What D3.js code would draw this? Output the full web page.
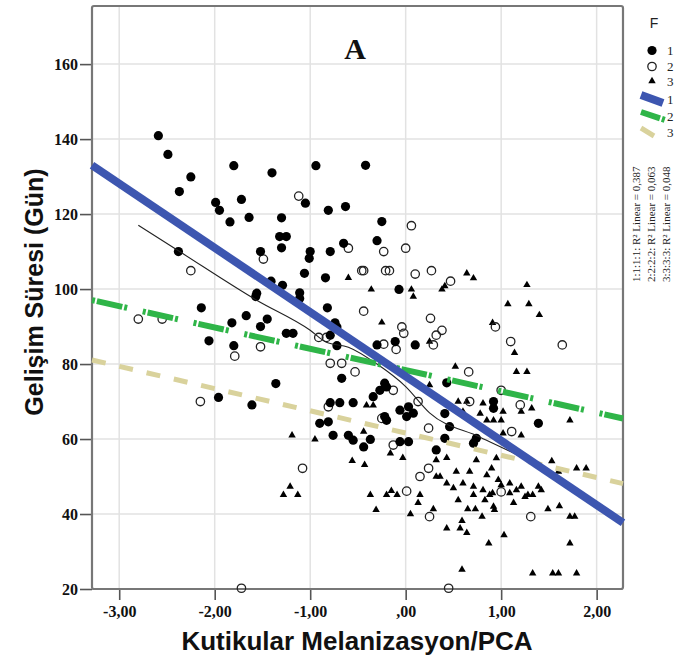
<!DOCTYPE html>
<html>
<head>
<meta charset="utf-8">
<script src="https://cdn.jsdelivr.net/npm/d3@7"></script>
<style>
body { margin: 0; background: #fff; }
</style>
</head>
<body>
<svg id="chart" width="679" height="668"></svg>
<script>
// axis ticks
const xTicks = [-3, -2, -1, 0, 1, 2];
const yTicks = [20, 40, 60, 80, 100, 120, 140, 160];

// F = 1 (filled circles)
const group1 = [
  [-2.59,140.9],[-2.49,135.9],[-2.25,129.9],[-2.37,126],[-1.80,132.9],[-1.40,131],[-0.94,132.9],[-0.42,133],
  [-1.05,122.9],[-1.99,123.1],[-1.95,121],[-1.72,123.9],[-1.84,117.9],[-1.64,119.1],[-1.30,119],[-0.81,121],[-0.63,122],
  [-1.32,114],[-1.25,114],[-1.30,111],[-1.52,110],[-1.00,110],[-1.01,108.2],[-0.79,110],[-0.65,112.2],[-2.38,110],
  [-1.06,104.2],[-0.84,103],[-1.41,102.1],[-1.29,101],[-1.11,99],[-1.11,97.5],[-1.56,98.9],[-1.57,98],
  [-0.82,95],[-0.74,91],[-2.14,95],[-1.82,91],[-1.67,92.9],[-1.45,92],[-1.52,90],[-2.06,86.2],[-1.80,84.9],
  [-1.25,88.2],[-1.18,88.2],[-0.72,84.9],
  [-0.25,118],[-0.30,112.9],[-0.07,99.9],[-0.72,89.9],[-0.79,87.7],[-0.30,85.1],[-0.11,86],[0.10,85.1],
  [0.43,75],[-0.67,76.2],[-0.22,74.9],[-0.27,73],
  [-1.36,74.8],[-1.96,71.1],[-1.61,69.1],[-0.79,69.7],[-0.69,69.7],[-0.55,69.7],[-0.90,64.2],[-0.81,64.6],
  [-0.76,61],[-0.60,61],[-0.55,59.7],[-0.44,57.9],[-0.37,59.9],[-0.34,71.3],[-0.20,73.9],[-0.22,66],[-0.20,65],
  [-0.06,67.7],[0.03,68.6],[0.01,66],[0.08,66.9],[-0.06,59.3],[0.03,59.3],[0.41,66.8],[0.41,60.2],[0.32,57.1],
  [0.46,63.3],[0.74,60.2],[0.92,70],[0.92,68.2],[1.39,64.2],[0.71,58.9]
];

// F = 2 (open circles)
const group2 = [
  [-1.12,124.8],[-1.49,108],[-2.25,104.9],[-2.80,92],[-2.55,92],[-1.52,84.6],[-0.91,87.1],[-0.83,87.1],[-1.79,82.1],
  [-2.15,70],[-0.81,68.6],[-0.13,73],[0.13,70],[-0.25,65.5],[-0.13,58.4],[0.24,62.9],[0.67,70],[1.00,73],
  [1.20,69.1],[1.11,62],[-1.08,52.2],[0.15,50],[0.24,52.2],[0.01,46.1],[0.25,39.3],[1.00,45.9],[1.31,39.3],
  [-1.72,20.2],[0.45,20.2],
  [0.06,116.9],[-0.60,110.9],[-0.23,110],[0.00,110.9],[-0.46,104.9],[-0.44,104.9],[-0.21,104.9],[-0.17,104.9],
  [0.10,104],[0.27,104.9],[0.47,102.1],[-0.44,94.1],[0.26,92.2],[-0.04,89.9],[-0.02,88.2],[0.38,89],[0.32,87.7],
  [0.29,85.1],[-0.10,83.9],[-0.23,85.3],[0.94,89.9],[1.10,86],[1.64,85.1],[0.66,77.9],[-0.79,80.2],[-0.67,80.2],
  [-0.53,77.9]
];

// F = 3 (triangles)
const group3 = [
  [-1.19,61],[-0.95,59.9],[-0.56,54.2],[-0.43,53.1],[-1.21,47.3],[-1.28,45.1],[-1.13,45.1],[-0.37,45.1],
  [-0.20,45.1],[-0.15,46.2],[-0.09,45.1],[-0.31,41.1],[0.05,40],[-0.44,62],[-0.16,56.2],[-0.03,55],[-0.41,69],
  [-0.34,69],[0.32,54.4],[0.43,55],[0.32,50],[0.36,50],[0.13,43],[0.29,41.3],[0.43,48.2],[0.50,46.9],[0.53,51.3],
  [0.67,51.3],[0.60,48.2],[0.74,54.4],[0.55,43.7],[0.43,36.2],[0.57,36.2],[0.64,35],[0.59,38.2],[0.59,25.2],
  [0.87,32.2],[1.03,34.4],[0.71,45.1],[0.81,46.4],[0.88,45.1],[0.83,43.7],[0.65,41.3],[0.73,41.3],[0.80,39.3],
  [0.93,41.1],[0.90,52.2],[0.97,49.1],[1.00,47.7],[1.09,48.2],[0.92,42],[1.13,43],[1.21,47.3],[1.25,44.6],
  [1.28,45.1],[1.33,45.1],[1.39,47.3],[1.42,46.4],[1.49,41.3],[1.61,42.1],[1.53,54.1],[1.60,51.3],[1.72,39.3],
  [1.77,39.3],[1.72,32.2],[1.79,52.2],[1.89,52.2],[1.72,65],[1.33,24.2],[1.54,24.2],[1.60,24.2],[1.79,24.2],
  [1.02,67.3],[1.21,67.3],[1.21,61],[0.85,65],[0.92,65],[1.00,65],[0.60,67.3],[0.78,66.8],[0.81,69.5],[0.64,70],
  [1.32,68.2],[0.55,70],[1.02,61.5],[0.95,54.9],[0.25,74.4],[0.15,45.1],[0.85,50.4],[0.71,47.3],[1.16,46.4],
  [0.91,45.6],[1.09,45.6],
  [-0.60,103],[-0.36,99.9],[0.06,99.9],[0.08,98],[0.38,99.9],[0.41,100.8],[0.64,104.2],[0.71,102.9],[1.27,101.1],
  [1.07,96],[1.29,96],[1.40,93.1],[-0.25,91.1],[0.25,86],[0.91,91],[1.14,83],[1.16,77.9],[1.27,77.9],[0.52,79.3]
];

// thin overall fit curve
const loessCurve = [
  [-2.80,117],[-2.38,110.2],[-1.56,97],[-1.0,89],[-0.83,85.8],[-0.6,84.5],[-0.3,80],[0,74],[0.25,67],
  [0.78,60.5],[1.3,54],[1.89,44.5]
];

// linear fits per group
const fitNames = ["1", "2", "3"];
const fitIntercepts = [76.7, 78.4, 61.6];
const fitSlopes = [-17.15, -5.68, -5.93];
const fitR2 = ["0,387", "0,063", "0,048"];
const fitColors = ["#3d56b0", "#2fb548", "#d9d29c"];

const svg = d3.select("#chart");
const W = 679, H = 668;
svg.append("rect").attr("width", W).attr("height", H).attr("fill", "#fff");

const x = d3.scaleLinear().domain([-3.285, 2.276]).range([92, 623]);
const y = d3.scaleLinear().domain([20, 175.5]).range([589, 6]);

// grid
svg.append("g").selectAll("line").data(xTicks).join("line")
  .attr("x1", d => x(d)).attr("x2", d => x(d))
  .attr("y1", y.range()[1]).attr("y2", y.range()[0])
  .attr("stroke", "#e2e2e2").attr("stroke-width", 1.5);
svg.append("g").selectAll("line").data(yTicks).join("line")
  .attr("x1", x.range()[0]).attr("x2", x.range()[1])
  .attr("y1", d => y(d)).attr("y2", d => y(d))
  .attr("stroke", "#e2e2e2").attr("stroke-width", 1.5);

// axes
const fmt = d => d === 0 ? ",00" : d.toFixed(2).replace(".", ",");
const xAxis = svg.append("g")
  .attr("transform", "translate(0," + y.range()[0] + ")")
  .call(d3.axisBottom(x).tickValues(xTicks).tickFormat(fmt).tickSize(11).tickPadding(6));
const yAxis = svg.append("g")
  .attr("transform", "translate(" + x.range()[0] + ",0)")
  .call(d3.axisLeft(y).tickValues(yTicks).tickSize(12).tickPadding(2));
[xAxis, yAxis].forEach(a => {
  a.select(".domain").remove();
  a.selectAll("line").attr("stroke", "#555").attr("stroke-width", 1.6);
  a.selectAll("text")
    .attr("fill", "#111")
    .style("font-family", "'Liberation Serif', 'Times New Roman', serif")
    .style("font-weight", "bold")
    .style("font-size", "16px");
});

// frame
svg.append("rect")
  .attr("x", x.range()[0]).attr("y", y.range()[1])
  .attr("width", x.range()[1] - x.range()[0]).attr("height", y.range()[0] - y.range()[1])
  .attr("fill", "none").attr("stroke", "#777").attr("stroke-width", 2.2).attr("rx", 2);

// points
const plot = svg.append("g");
plot.selectAll(".f3").data(group3).join("path").attr("class", "f3")
  .attr("transform", d => "translate(" + x(d[0]) + "," + y(d[1]) + ")")
  .attr("d", d3.symbol(d3.symbolTriangle, 24)).attr("fill", "#000");
plot.selectAll(".f2").data(group2).join("circle").attr("class", "f2")
  .attr("cx", d => x(d[0])).attr("cy", d => y(d[1])).attr("r", 4.2)
  .attr("fill", "none").attr("stroke", "#222").attr("stroke-width", 1.3);
plot.selectAll(".f1").data(group1).join("circle").attr("class", "f1")
  .attr("cx", d => x(d[0])).attr("cy", d => y(d[1])).attr("r", 4.6)
  .attr("fill", "#000");

// thin curve
plot.append("path").datum(loessCurve)
  .attr("d", d3.line().x(d => x(d[0])).y(d => y(d[1])).curve(d3.curveMonotoneX))
  .attr("fill", "none").attr("stroke", "#222").attr("stroke-width", 1.1);

// fit lines
const dashes = [null, "3,2,26,2,3,16", "14,14"];
const widths = [8, 6, 5];
const xd = x.domain();
const order = [2, 1, 0];
order.forEach(i => {
  plot.append("line")
    .attr("x1", x(xd[0])).attr("y1", y(fitIntercepts[i] + fitSlopes[i] * xd[0]))
    .attr("x2", x(xd[1])).attr("y2", y(fitIntercepts[i] + fitSlopes[i] * xd[1]))
    .attr("stroke", fitColors[i]).attr("stroke-width", widths[i])
    .attr("stroke-dasharray", dashes[i]);
});

// title
svg.append("text").attr("x", 355).attr("y", 59).attr("text-anchor", "middle")
  .style("font-family", "'Liberation Serif', serif").style("font-weight", "bold")
  .style("font-size", "30px").attr("fill", "#111").text("A");

// axis titles
svg.append("text").attr("x", 357).attr("y", 650).attr("text-anchor", "middle")
  .style("font-family", "'Liberation Sans', Arial, sans-serif").style("font-weight", "bold")
  .style("font-size", "26px").attr("fill", "#111").text("Kutikular Melanizasyon/PCA");
svg.append("text").attr("transform", "translate(43,292) rotate(-90)").attr("text-anchor", "middle")
  .style("font-family", "'Liberation Sans', Arial, sans-serif").style("font-weight", "bold")
  .style("font-size", "25px").attr("fill", "#111").text("Gelişim Süresi (Gün)");

// legend
const lg = svg.append("g").style("font-family", "'Liberation Serif', serif").attr("fill", "#222");
lg.append("text").attr("x", 654).attr("y", 28).attr("text-anchor", "middle")
  .style("font-family", "'Liberation Sans', sans-serif").style("font-size", "14px").text("F");
const symRows = [50.5, 66.5, 81];
lg.append("circle").attr("cx", 652).attr("cy", symRows[0]).attr("r", 4.6).attr("fill", "#000");
lg.append("circle").attr("cx", 652).attr("cy", symRows[1]).attr("r", 4.2)
  .attr("fill", "none").attr("stroke", "#222").attr("stroke-width", 1.3);
lg.append("path").attr("transform", "translate(652," + symRows[2] + ")")
  .attr("d", d3.symbol(d3.symbolTriangle, 24)).attr("fill", "#000");
const lineRows = [99, 116, 132];
const swatchEnd = [663, 665, 654];
fitNames.forEach((n, i) => {
  lg.append("text").attr("x", 667).attr("y", symRows[i] + 4.5)
    .style("font-size", "13px").text(n);
  lg.append("text").attr("x", 667).attr("y", lineRows[i] + 4.5)
    .style("font-size", "13px").text(n);
  lg.append("line")
    .attr("x1", 641).attr("y1", lineRows[i] - 4)
    .attr("x2", swatchEnd[i]).attr("y2", lineRows[i] + 4)
    .attr("stroke", fitColors[i]).attr("stroke-width", widths[i])
    .attr("stroke-dasharray", i === 1 ? "20,2,3,20" : null);
  lg.append("text").attr("transform", "translate(" + (640 + i * 15) + ",282) rotate(-90)")
    .style("font-size", "11px")
    .text(n + ":" + n + ":" + n + ":" + n + ": R² Linear = " + fitR2[i]);
});
</script>
</body>
</html>
